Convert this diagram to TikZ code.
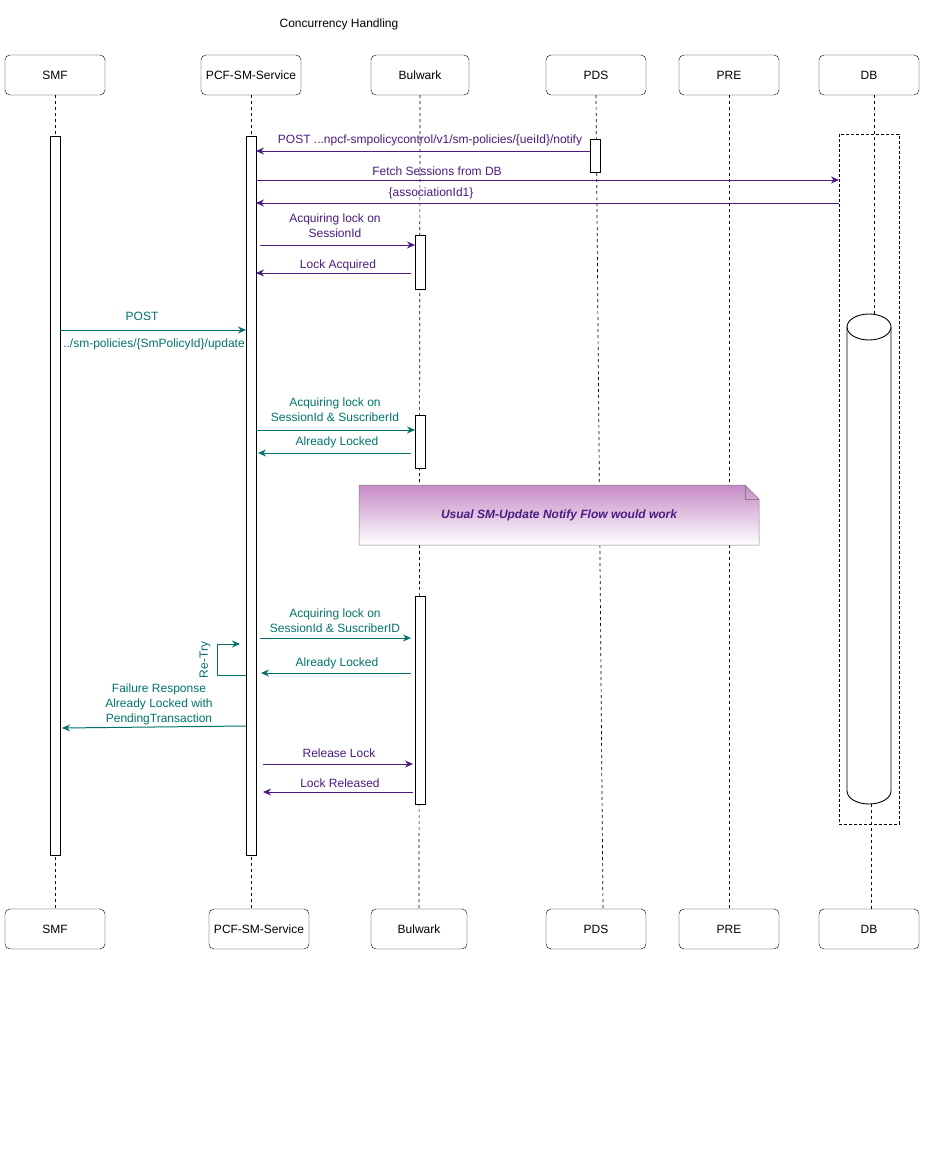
\documentclass[tikz,border=0pt]{standalone}
\usepackage{fontspec}
\setmainfont{Liberation Sans}
\usetikzlibrary{arrows.meta,shapes.geometric}
\definecolor{pur}{HTML}{4C1A80}
\definecolor{tea}{HTML}{00736B}
\definecolor{notetop}{HTML}{C68AC6}
\begin{document}
\begin{tikzpicture}[x=1pt,y=-1pt,
  actor/.style={draw,rounded corners=5pt,minimum height=40pt,inner sep=0pt,font=\fontsize{12}{14}\selectfont},
  act/.style={draw,fill=white,line width=0.9pt},
  life/.style={line width=0.7pt,dash pattern=on 3pt off 3pt},
  msg/.style={-{Stealth[length=8pt,width=7pt]},line width=1pt},
  lab/.style={font=\fontsize{12}{15}\selectfont,align=center,inner sep=0pt}]
\useasboundingbox (0,0) rectangle (938,1172);
\node[lab] (title) at (339,24) {Concurrency Handling};
% actors top
\node[actor,minimum width=100pt] (smf) at (55,75) {SMF};
\node[actor,minimum width=100pt] (pcf) at (251,75) {PCF-SM-Service};
\node[actor,minimum width=98pt] (bul) at (420,75) {Bulwark};
\node[actor,minimum width=100pt] (pds) at (596,75) {PDS};
\node[actor,minimum width=100pt] (pre) at (729,75) {PRE};
\node[actor,minimum width=100pt] (db) at (869,75) {DB};
% actors bottom
\node[actor,minimum width=100pt] (smf2) at (55,929) {SMF};
\node[actor,minimum width=100pt] (pcf2) at (259,929) {PCF-SM-Service};
\node[actor,minimum width=96pt] (bul2) at (419,929) {Bulwark};
\node[actor,minimum width=100pt] (pds2) at (596,929) {PDS};
\node[actor,minimum width=100pt] (pre2) at (729,929) {PRE};
\node[actor,minimum width=100pt] (db2) at (869,929) {DB};
% lifelines
\draw[life] (smf.south) -- (smf2.north);
\draw[life] (pcf.south) -- (251,909);
\draw[life] (bul.south) -- (bul2.north);
\draw[life] (pds.south) -- (603,909);
\draw[life] (pre.south) -- (pre2.north);
\draw[life] (874,95) -- (874,314);
\draw[life] (871,804) -- (871,909);
% DB dashed container and cylinder
\draw[line width=0.8pt,dash pattern=on 3pt off 2pt] (839,134) rectangle (899,824);
\draw[line width=0.9pt,fill=white] (847,327) -- (847,791) arc[start angle=180,end angle=0,x radius=22,y radius=13] -- (891,327);
\draw[line width=0.9pt,fill=white] (869,327) ellipse[x radius=22,y radius=13];
\coordinate (cyl) at (869,559);
% note
\shade[top color=notetop,bottom color=white] (359,485) -- (745,485) -- (759,499) -- (759,545) -- (359,545) -- cycle;
\draw[line width=0.5pt,draw=gray] (359,485) -- (745,485) -- (759,499) -- (759,545) -- (359,545) -- cycle;
\draw[line width=0.5pt,draw=gray] (745,485) -- (745,499) -- (759,499);
\node[lab,text=pur,font=\fontsize{12}{14}\selectfont\bfseries\itshape] (note) at (559,515) {Usual SM-Update Notify Flow would work};
% activations
\node[act,minimum width=10pt,minimum height=719pt,inner sep=0pt] (asmf) at (55,495.5) {};
\node[act,minimum width=10pt,minimum height=719pt,inner sep=0pt] (apcf) at (251,495.5) {};
\node[act,minimum width=10pt,minimum height=33pt,inner sep=0pt] (apds) at (595,155.5) {};
\node[act,minimum width=10pt,minimum height=54pt,inner sep=0pt] (ab1) at (420,262) {};
\node[act,minimum width=10pt,minimum height=53pt,inner sep=0pt] (ab2) at (420,441.5) {};
\node[act,minimum width=10pt,minimum height=208pt,inner sep=0pt] (ab3) at (420,700) {};
% coordinates
\coordinate (p1a) at (590,151); \coordinate (p1b) at (256,151);
\coordinate (p2a) at (256,180); \coordinate (p2b) at (839,180);
\coordinate (p3a) at (839,203); \coordinate (p3b) at (256,203);
\coordinate (p4a) at (260,245); \coordinate (p4b) at (415,245);
\coordinate (p5a) at (411,273); \coordinate (p5b) at (256,273);
\coordinate (p6a) at (60,330); \coordinate (p6b) at (246,330);
\coordinate (p7a) at (256,430); \coordinate (p7b) at (415,430);
\coordinate (p8a) at (411,453); \coordinate (p8b) at (258,453);
\coordinate (p9a) at (260,638); \coordinate (p9b) at (411,638);
\coordinate (r1) at (246,675); \coordinate (r2) at (217,675); \coordinate (r3) at (217,644); \coordinate (r4) at (240,644);
\coordinate (q1a) at (411,673); \coordinate (q1b) at (261,673);
\coordinate (q2a) at (246,726); \coordinate (q2b) at (62,728);
\coordinate (q3a) at (263,764); \coordinate (q3b) at (413,764);
\coordinate (q4a) at (413,792); \coordinate (q4b) at (263,792);
% messages
\draw[msg,pur] (p1a) -- (p1b);
\node[lab,text=pur] (l1) at (430,140) {POST ...npcf-smpolicycontrol/v1/sm-policies/\{ueiId\}/notify};
\draw[msg,pur] (p2a) -- (p2b);
\node[lab,text=pur] (l2) at (437,171) {Fetch Sessions from DB};
\draw[msg,pur] (p3a) -- (p3b);
\node[lab,text=pur] (l3) at (431,193) {\{associationId1\}};
\draw[msg,pur] (p4a) -- (p4b);
\node[lab,text=pur] (l4) at (335,226) {Acquiring lock on\\SessionId};
\draw[msg,pur] (p5a) -- (p5b);
\node[lab,text=pur] (l5) at (338,265) {Lock Acquired};
\draw[msg,tea] (p6a) -- (p6b);
\node[lab,text=tea] (l6) at (142,316) {POST};
\node[lab,text=tea] (l6b) at (154,344) {../sm-policies/\{SmPolicyId\}/update};
\draw[msg,tea] (p7a) -- (p7b);
\node[lab,text=tea] (l7) at (335,410) {Acquiring lock on\\SessionId \& SuscriberId};
\draw[msg,tea] (p8a) -- (p8b);
\node[lab,text=tea] (l8) at (337,442) {Already Locked};
\draw[msg,tea] (p9a) -- (p9b);
\node[lab,text=tea] (l9) at (335,621) {Acquiring lock on\\SessionId \& SuscriberID};
\draw[msg,tea] (r1) -- (r2) -- (r3) -- (r4);
\node[lab,text=tea,rotate=90] (lr) at (205,660) {Re-Try};
\draw[msg,tea] (q1a) -- (q1b);
\node[lab,text=tea] (lq1) at (337,663) {Already Locked};
\draw[msg,tea] (q2a) -- (q2b);
\node[lab,text=tea] (lq2) at (159,704) {Failure Response\\Already Locked with\\PendingTransaction};
\draw[msg,pur] (q3a) -- (q3b);
\node[lab,text=pur] (lq3) at (339,753) {Release Lock};
\draw[msg,pur] (q4a) -- (q4b);
\node[lab,text=pur] (lq4) at (340,783) {Lock Released};
\end{tikzpicture}
\end{document}
